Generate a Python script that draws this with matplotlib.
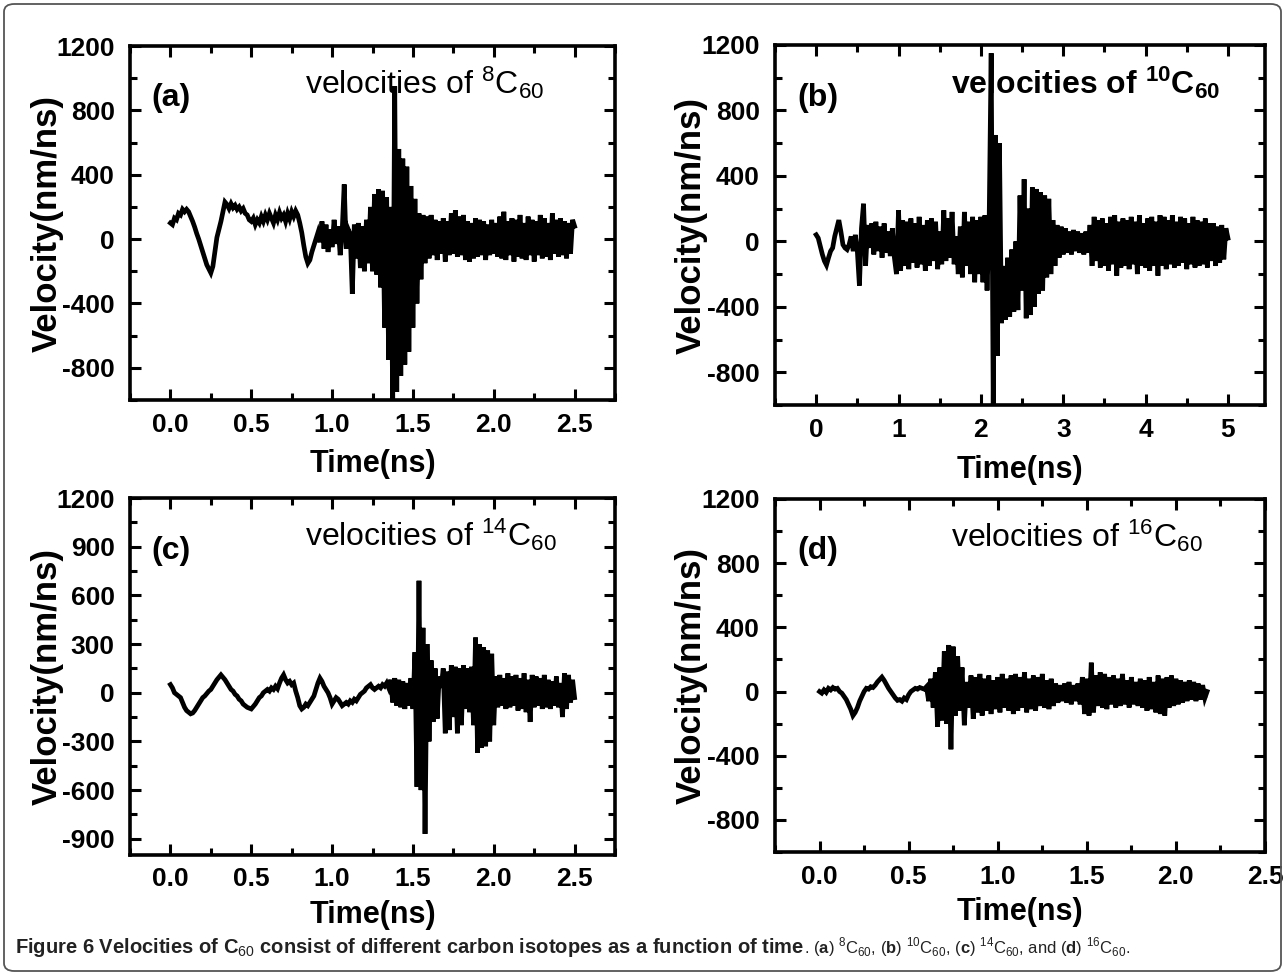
import numpy as np
import matplotlib
matplotlib.use("Agg")
import matplotlib.pyplot as plt
from matplotlib.ticker import MultipleLocator
from matplotlib.patches import FancyBboxPatch

# ---------------- data ----------------
dt_a = 0.0125
v_a = [
    100, 90, 130, 120, 160, 150, 185, 170,
    185, 170, 140, 110, 75, 35, 0, -40,
    -80, -120, -160, -185, -210, -170, -80, 10,
    60, 110, 170, 230, 215, 190, 220, 195,
    210, 185, 200, 175, 190, 160, 150, 120,
    110, 130, 90, 120, 100, 140, 110, 150,
    120, 160, 130, 100, 150, 120, 165, 130,
    150, 110, 160, 125, 170, 140, 175, 150,
    100, 40, -40, -110, -150, -130, -80, -40,
    0, 40, -20, 110, -60, 90, -80, 60,
    -50, 120, -30, 80, -100, 50, 340, -60,
    60, 30, -340, 90, -120, 100, -180, 80,
    -200, 120, -150, 200, -200, 280, -220, 310,
    -300, 300, -550, 260, -750, 200, -1000, 950,
    -950, 560, -850, 500, -780, 450, -700, 330,
    -550, 250, -400, 160, -250, 150, -150, 140,
    -120, 150, -100, 120, -130, 110, -90, 130,
    -140, 110, -100, 160, -90, 180, -110, 140,
    -100, 150, -130, 110, -140, 100, -120, 130,
    -110, 120, -100, 110, -130, 90, -100, 120,
    -90, 100, -110, 140, -120, 170, -130, 110,
    -100, 130, -140, 120, -110, 150, -120, 100,
    -130, 140, -100, 120, -140, 110, -100, 150,
    -120, 130, -110, 100, -130, 160, -90, 120,
    -110, 130, -100, 110, -120, 100, -90, 120,
    80,
]

dt_b = 0.025
v_b = [
    40, 20, -30, -80, -120, -145, -100, -60,
    -40, 30, 80, 130, 60, -20, -40, -50,
    -20, 30, -60, 40, -60, -270, 80, 230,
    -150, 100, -40, 110, -80, 120, -60, 90,
    -100, 110, -70, 60, -90, 80, -100, -200,
    190, -180, 130, -150, 120, -170, 140, -130,
    110, -160, 150, -140, 100, -180, 130, -150,
    140, -120, 120, -170, 60, -140, 190, -120,
    140, -100, 180, -140, 30, -200, 90, -220,
    180, -150, 120, -200, 150, -250, 130, -200,
    150, -250, 160, -300, 100, 1150, -1000, 650,
    -700, 600, -500, -150, -480, -100, -460, -50,
    -430, 0, -420, 280, -300, 380, -470, 200,
    -450, 330, -400, 320, -320, 300, -300, 280,
    -220, 260, -200, 130, -150, 100, -100, 90,
    -80, 80, -70, 60, -80, 70, -60, 60,
    -70, 50, -80, 60, -70, 100, -150, 150,
    -120, 130, -160, 140, -150, 110, -180, 150,
    -140, 160, -210, 120, -160, 140, -150, 130,
    -170, 150, -140, 120, -200, 160, -150, 110,
    -160, 140, -180, 150, -150, 120, -210, 160,
    -150, 150, -170, 130, -140, 160, -160, 120,
    -150, 150, -130, 140, -170, 110, -140, 150,
    -160, 130, -150, 120, -140, 140, -160, 110,
    -120, 110, -150, 90, -130, 100, -110, 80,
    20,
]

dt_c = 0.0125
v_c = [
    50, 30, 0, -10, -20, -30, -60, -90,
    -110, -120, -130, -125, -110, -90, -70, -50,
    -30, -20, -5, 10, 20, 40, 60, 80,
    95, 110, 95, 80, 60, 40, 20, 10,
    -10, -20, -40, -50, -70, -80, -90, -95,
    -100, -85, -70, -50, -30, -20, 0, 10,
    20, 10, 30, 20, 40, 25, 60, 90,
    110, 80, 60, 70, 50, 60, 10, -30,
    -80, -100, -90, -70, -80, -60, -40, -20,
    20, 60, 90, 70, 40, 20, 0, -30,
    -70, -50, -30, -40, -60, -80, -70, -60,
    -70, -50, -60, -40, -50, -30, -10, 0,
    10, 30, 40, 50, 30, 20, 30, 40,
    30, 50, 40, 60, 30, 80, -60, 90,
    -80, 80, -90, 70, -100, 60, -80, 90,
    -100, 250, -580, 690, -600, 400, -870, 300,
    -300, 200, -180, 150, -160, 100, 30, 150,
    -250, 130, -230, 170, -150, 160, -250, 150,
    -200, 170, -100, 150, -120, 160, -200, 340,
    -370, 300, -340, 280, -330, 260, -300, 240,
    -200, 100, -90, 110, -80, 90, -100, 120,
    -90, 100, -80, 110, -110, 90, -100, 120,
    -120, 80, -180, 110, -90, 100, -80, 90,
    -100, 110, -90, 80, -100, 70, -80, 100,
    -90, 60, -150, 120, -100, 110, -60, 80,
    -30,
]

dt_d = 0.0125
v_d = [
    0, -10, 10, -5, 20, 10, 25, 15,
    20, 0, -10, -30, -50, -80, -110, -150,
    -130, -100, -60, -30, 0, 20, 15, 30,
    25, 40, 60, 75, 90, 70, 45, 20,
    0, -20, -40, -55, -50, -60, -40, -50,
    -20, 0, 10, 20, 15, 25, 20, 15,
    30, -60, 80, -100, 120, -220, 150, -180,
    250, -200, 290, -360, 280, -150, 220, -120,
    150, -210, 60, -100, 100, -170, 90, -130,
    110, -150, 80, -120, 100, -140, 70, -110,
    90, -130, 110, -100, 80, -120, 100, -140,
    110, -120, 90, -100, 120, -130, 80, -110,
    100, -120, 90, -90, 110, -100, 70, -110,
    80, -90, 50, -70, 40, -60, 50, -70,
    60, -80, 40, -60, 50, -80, 90, -140,
    80, -150, 180, -130, 100, -90, 120, -100,
    110, -110, 90, -80, 100, -100, 80, -90,
    110, -80, 70, -100, 90, -80, 60, -90,
    80, -100, 70, -120, 90, -110, 60, -130,
    100, -140, 80, -150, 90, -100, 100, -90,
    80, -80, 70, -70, 60, -60, 70, -50,
    60, -60, 50, -50, 40, -40, 0,
]

panel_tags = ["(a)", "(b)", "(c)", "(d)"]
isotopes = ["8", "10", "14", "16"]
x_label = "Time(ns)"
y_label = "Velocity(nm/ns)"
caption_bold = "Figure 6 Velocities of C$_{60}$ consist of different carbon isotopes as a function of time"
caption_rest = (". ($\\mathbf{a}$) $^{8}$C$_{60}$, ($\\mathbf{b}$) $^{10}$C$_{60}$, "
                "($\\mathbf{c}$) $^{14}$C$_{60}$, and ($\\mathbf{d}$) $^{16}$C$_{60}$.")

# ---------------- figure ----------------
W, H = 1285, 975
plt.rcParams['axes.unicode_minus'] = False
plt.rcParams['mathtext.fontset'] = 'custom'
plt.rcParams['mathtext.rm'] = 'Liberation Sans'
plt.rcParams['mathtext.bf'] = 'Liberation Sans:bold'
fig = plt.figure(figsize=(W / 100, H / 100), dpi=100)

TICKFONT = ['Liberation Sans', 'DejaVu Sans']
LABFONT = ['Liberation Sans', 'DejaVu Sans']


def px_axes(left, top, right, bottom):
    return [left / W, 1 - bottom / H, (right - left) / W, (bottom - top) / H]


panels = [
    dict(v=v_a, dt=dt_a, rect=px_axes(130, 46, 615, 400), xlim=(-0.25, 2.75),
         xmaj=0.5, xfmt="{:.1f}", yticks=[-800, -400, 0, 400, 800, 1200], ymin=200,
         bold_title=False, xlpad=9),
    dict(v=v_b, dt=dt_b, rect=px_axes(775, 45, 1265, 405), xlim=(-0.5, 5.45),
         xmaj=1.0, xfmt="{:.0f}", yticks=[-800, -400, 0, 400, 800, 1200], ymin=200,
         bold_title=True, xlpad=10),
    dict(v=v_c, dt=dt_c, rect=px_axes(130, 498, 615, 855), xlim=(-0.25, 2.75),
         xmaj=0.5, xfmt="{:.1f}", yticks=[-900, -600, -300, 0, 300, 600, 900, 1200], ymin=150,
         bold_title=False, xlpad=6),
    dict(v=v_d, dt=dt_d, rect=px_axes(775, 499, 1265, 852), xlim=(-0.25, 2.5),
         xmaj=0.5, xfmt="{:.1f}", yticks=[-800, -400, 0, 400, 800, 1200], ymin=200,
         bold_title=False, xlpad=6),
]

for i, p in enumerate(panels):
    ax = fig.add_axes(p["rect"])
    v = np.array(p["v"], dtype=float)
    t = np.arange(len(v)) * p["dt"]
    ax.plot(t, v, color="black", lw=3.4, solid_joinstyle="miter")
    ax.set_xlim(*p["xlim"])
    ax.set_ylim(-1000, 1200)
    ax.set_yticks(p["yticks"])
    ax.yaxis.set_minor_locator(MultipleLocator(p["ymin"]))
    xt = [x for x in np.arange(0, p["xlim"][1] + 1e-9, p["xmaj"])]
    ax.set_xticks(xt)
    ax.set_xticklabels([p["xfmt"].format(x) for x in xt])
    ax.xaxis.set_minor_locator(MultipleLocator(p["xmaj"] / 2))
    for s in ax.spines.values():
        s.set_linewidth(2.6)
    ax.tick_params(which="both", direction="in", top=True, right=True, width=2.2)
    ax.tick_params(which="major", length=8)
    ax.tick_params(which="minor", length=5)
    ax.tick_params(axis="x", which="major", pad=9)
    ax.tick_params(axis="y", which="major", pad=11)
    for lab in ax.get_xticklabels() + ax.get_yticklabels():
        lab.set_fontfamily(TICKFONT)
        lab.set_fontweight("bold")
        lab.set_fontsize(19)
    ax.set_xlabel(x_label, fontfamily=LABFONT, fontweight="bold", fontsize=22,
                  labelpad=p["xlpad"])
    ax.set_ylabel(y_label, fontfamily=LABFONT, fontweight="bold", fontsize=25)
    ax.yaxis.set_label_coords(-0.137, 0.5)
    ax.text(0.045, 0.83, panel_tags[i], transform=ax.transAxes, fontfamily=LABFONT,
            fontsize=23, fontweight="bold", va="baseline", ha="left")
    tw = "bold" if p["bold_title"] else "normal"
    ax.text(0.36, 0.865, "velocities of $\\mathregular{^{%s}C_{60}}$" % isotopes[i],
            transform=ax.transAxes, fontfamily=LABFONT, fontsize=23, fontweight=tw,
            va="baseline", ha="left")

# frame around the whole figure
frame = FancyBboxPatch((4 / W, 4 / H), (W - 8) / W, (H - 8) / H,
                       boxstyle="round,pad=0,rounding_size=0.008",
                       transform=fig.transFigure, fill=False, ec="#555555", lw=1.3)
fig.patches.append(frame)

# caption
cb = fig.text(15 / W, 1 - 953 / H, caption_bold, fontfamily=TICKFONT, fontsize=14.5,
              fontweight="bold", color="#222222", va="baseline", ha="left")
fig.canvas.draw()
bb = cb.get_window_extent()
fig.text(bb.x1 / W, 1 - 953 / H, caption_rest, fontfamily=TICKFONT, fontsize=12,
         color="#222222", va="baseline", ha="left")

fig.savefig("out.png", dpi=100, facecolor="white")
